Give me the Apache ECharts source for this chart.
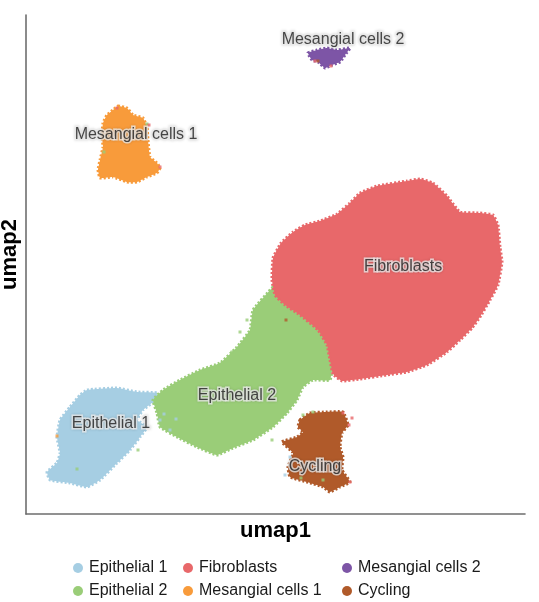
<!DOCTYPE html>
<html><head><meta charset="utf-8">
<script src="https://cdn.jsdelivr.net/npm/echarts@6/dist/echarts.min.js"></script>
<style>html,body{margin:0;padding:0;background:#fff}#c{width:539px;height:602px}</style>
</head><body><div id="c"></div>
<script>
// Cluster names and colours
const clusterNames = ['Epithelial 1', 'Epithelial 2', 'Fibroblasts', 'Mesangial cells 1', 'Mesangial cells 2', 'Cycling'];
const clusterColors = ['#A6CEE3', '#9ACD78', '#E8686A', '#F89B3B', '#7D55A6', '#B05A2A'];

// Cluster outlines in UMAP units
const epithelial1Outline = [[12.2,24.8],[18.2,25.2],[22.2,24.4],[26.2,24.2],[25.4,22.4],[23.4,20.8],[22.2,18.8],[24.2,17.4],[22.8,15.4],[20.8,12.8],[18.2,10.2],[14.8,6.8],[12.2,5.4],[8.8,6.2],[4.8,6.8],[4.2,8.4],[6.2,10.2],[6.8,12.2],[6.2,15.4],[6.8,18.8],[8.8,21.4],[10.8,23.8]];
const epithelial2Outline = [[49.4,45.4],[45.4,40.8],[44.8,36.8],[42.2,33.4],[38.8,30.2],[34.8,28.8],[30.8,26.8],[27.4,24.8],[25.4,22.8],[26.2,20.2],[26.8,17.4],[30.2,15.4],[34.2,13.4],[38.2,11.8],[41.4,13.2],[45.4,14.8],[49.4,17.4],[52.2,20.2],[54.2,22.8],[55.4,25.4],[57.4,26.8],[60.8,26.8],[61.4,31.4],[60.2,36.8],[56.8,40.2],[53.4,43.4],[50.8,46.2]];
const fibroblastsOutline = [[49.4,51.2],[51.0,54.2],[53.4,56.4],[55.8,57.8],[58.8,58.6],[62.2,60.0],[64.8,62.2],[66.8,64.2],[70.2,65.6],[76.2,66.6],[78.8,67.0],[81.4,66.2],[84.2,63.6],[86.8,60.4],[90.8,60.2],[93.4,59.8],[94.4,57.8],[94.8,53.4],[95.2,50.4],[94.4,45.8],[92.8,42.8],[90.8,39.4],[89.2,37.2],[86.8,34.8],[84.2,32.4],[80.2,29.8],[76.2,28.4],[72.2,27.8],[66.8,27.0],[63.2,26.6],[61.4,28.0],[60.8,30.8],[60.2,33.8],[58.4,36.8],[54.8,39.8],[51.8,41.8],[49.8,43.8],[49.2,46.8]];
const mesangial1Outline = [[18.4,81.6],[20.2,81.2],[21.4,79.8],[23.4,79.2],[24.2,77.4],[24.4,74.8],[24.8,71.4],[26.2,70.2],[26.8,69.2],[26.2,68.2],[24.2,67.4],[22.2,66.4],[20.2,66.4],[17.4,67.4],[14.8,67.2],[14.4,68.8],[14.8,70.8],[15.4,73.4],[15.2,75.4],[15.4,78.2],[16.2,79.8],[17.4,80.8]];
const mesangial2Outline = [[56.4,92.2],[58.2,92.8],[60.2,93.2],[62.2,92.8],[64.8,93.2],[63.8,91.8],[62.8,90.4],[61.2,89.8],[59.8,89.2],[58.4,90.4],[57.2,90.8]];
const cyclingOutline = [[54.8,18.8],[56.8,20.2],[60.2,20.4],[63.4,20.4],[64.4,17.8],[63.2,16.2],[62.8,13.4],[63.4,11.4],[63.2,8.8],[64.8,6.4],[62.8,5.4],[60.8,4.4],[59.4,5.4],[56.2,6.4],[52.8,7.4],[52.4,9.4],[53.4,12.2],[51.2,14.4],[54.2,15.4],[55.4,16.4],[54.4,17.4]];
const outlines = [epithelial1Outline, epithelial2Outline, fibroblastsOutline, mesangial1Outline, mesangial2Outline, cyclingOutline];

// Stray cells lying outside / inside other clusters
const epithelial1Strays = [[26.8,18.8],[28.8,16.8],[27.6,20.0],[51.8,7.8],[52.8,11.4],[30.0,19.0]];
const epithelial2Strays = [[42.8,36.4],[41.2,32.4],[55.4,19.8],[57.4,20.4],[49.2,14.8],[24.2,78.0],[15.6,72.4],[44.2,38.8],[55.0,7.2],[59.4,6.8],[10.2,9.0],[22.4,12.8]];
const fibroblastsStrays = [[63.4,20.2],[64.6,17.8],[64.8,6.4],[26.8,69.4],[24.6,77.8],[18.2,81.2],[57.8,90.6],[61.0,89.6],[65.2,19.2]];
const mesangial1Strays = [[6.2,15.6]];
const cyclingStrays = [[58.4,90.6],[52.0,38.8]];
const strays = [epithelial1Strays, epithelial2Strays, fibroblastsStrays, mesangial1Strays, [], cyclingStrays];

// Cluster label positions
const labelNames = ['Mesangial cells 2', 'Mesangial cells 1', 'Fibroblasts', 'Epithelial 2', 'Epithelial 1', 'Cycling'];
const labelX = [63.4, 22.0, 75.4, 42.2, 17.0, 57.8];
const labelY = [94.8, 75.8, 49.4, 23.6, 18.0, 9.4];

const chart = echarts.init(document.getElementById('c'), null, {renderer: 'canvas'});

const series = [];
clusterNames.forEach((name, i) => {
  const pts = outlines[i];
  const col = clusterColors[i];
  series.push({
    type: 'custom', name: name, data: pts, encode: {x: 0, y: 1},
    itemStyle: {color: col}, silent: true, clip: false, z: 2 + i,
    renderItem: (params, api) => {
      if (params.dataIndex !== 0) return null;
      return {
        type: 'polygon',
        shape: {points: pts.map(p => api.coord(p)), smooth: 0.12},
        style: {fill: col, stroke: col, lineWidth: 3, lineDash: [2, 2]}
      };
    }
  });
});
clusterNames.forEach((name, i) => {
  if (!strays[i].length) return;
  series.push({
    type: 'scatter', name: name, data: strays[i], symbol: 'rect', symbolSize: 3,
    itemStyle: {color: clusterColors[i]}, silent: true, z: 20
  });
});
series.push({
  type: 'scatter', name: 'labels', silent: true, z: 30, symbolSize: 0,
  data: labelNames.map((n, i) => ({name: n, value: [labelX[i], labelY[i]]})),
  label: {
    show: true, position: 'inside', formatter: p => p.name,
    fontFamily: 'Liberation Sans, Arial, sans-serif', fontSize: 16, color: '#1e1e1e',
    textBorderColor: 'rgba(242,242,242,0.95)', textBorderWidth: 3,
    textShadowColor: 'rgba(0,0,0,0.18)', textShadowBlur: 3
  }
});

const legendCommon = {
  orient: 'vertical', top: 560, itemGap: 7, itemWidth: 10, itemHeight: 10,
  icon: 'circle', padding: 0, selectedMode: false,
  textStyle: {fontFamily: 'Liberation Sans, Arial, sans-serif', fontSize: 16, lineHeight: 16, color: '#1a1a1a', padding: [0, 0, 0, 1]}
};
const legItem = n => ({name: n, itemStyle: {color: clusterColors[clusterNames.indexOf(n)]}});

chart.setOption({
  animation: false,
  backgroundColor: '#ffffff',
  grid: {left: 26, right: 14, top: 15, bottom: 88, outerBoundsMode: 'none', containLabel: false},
  xAxis: {
    type: 'value', min: 0, max: 99.8,
    axisLine: {show: true, lineStyle: {color: '#6e6e6e', width: 1.6}},
    axisTick: {show: false}, axisLabel: {show: false}, splitLine: {show: false},
    name: 'umap1', nameLocation: 'middle', nameGap: 6,
    nameTextStyle: {fontFamily: 'Liberation Sans, Arial, sans-serif', fontWeight: 'bold', fontSize: 22, color: '#000', verticalAlign: 'top'}
  },
  yAxis: {
    type: 'value', min: 0, max: 99.8,
    axisLine: {show: true, lineStyle: {color: '#6e6e6e', width: 1.6}},
    axisTick: {show: false}, axisLabel: {show: false}, splitLine: {show: false},
    name: 'umap2', nameLocation: 'middle', nameGap: 5, nameRotate: 90,
    nameTextStyle: {fontFamily: 'Liberation Sans, Arial, sans-serif', fontWeight: 'bold', fontSize: 22, color: '#000', padding: [0, 0, 0, 20]}
  },
  legend: [
    Object.assign({left: 73, data: [legItem('Epithelial 1'), legItem('Epithelial 2')]}, legendCommon),
    Object.assign({left: 183, data: [legItem('Fibroblasts'), legItem('Mesangial cells 1')]}, legendCommon),
    Object.assign({left: 342, data: [legItem('Mesangial cells 2'), legItem('Cycling')]}, legendCommon)
  ],
  series: series
});
</script>
</body></html>
